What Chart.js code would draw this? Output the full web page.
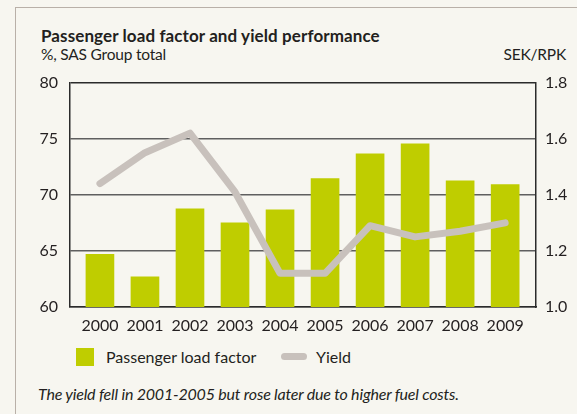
<!DOCTYPE html>
<html>
<head>
<meta charset="utf-8">
<script src="https://cdn.jsdelivr.net/npm/chart.js@4"></script>
<style>
  html, body { margin: 0; padding: 0; }
  body {
    width: 577px; height: 414px; overflow: hidden; position: relative;
    background: #f7f6f0; font-family: Lato, sans-serif; color: #231f20;
  }
  .frame {
    position: absolute; left: 15px; top: 7px; right: -10px; bottom: -10px;
    border-left: 1.5px solid #b9b0a8; border-top: 1.5px solid #b9b0a8;
  }
  .txt { position: absolute; white-space: nowrap; line-height: 1; }
  #title { left: 41px; top: 27px; font-size: 17px; font-weight: bold; letter-spacing: 0.1px; }
  #sub { left: 41px; top: 47px; font-size: 15.5px; letter-spacing: -0.2px; }
  #unit { right: 11px; top: 47px; font-size: 15.5px; letter-spacing: -0.2px; }
  #wrap { position: absolute; left: 0; top: 61px; width: 577px; height: 284px; }
  .swatch { position: absolute; }
  #sw1 { left: 76px; top: 348px; width: 18px; height: 18px; background: #bfcd00; }
  #sw2 { left: 281px; top: 353px; width: 26px; height: 7px; border-radius: 4px; background: #c8c1bc; }
  #lg1 { left: 106px; top: 349px; font-size: 16px; }
  #lg2 { left: 316px; top: 349px; font-size: 16px; }
  #note { left: 38px; top: 386px; font-size: 16px; font-style: italic; letter-spacing: -0.2px; }
</style>
</head>
<body>
<div class="frame"></div>
<div class="txt" id="title">Passenger load factor and yield performance</div>
<div class="txt" id="sub">%, SAS Group total</div>
<div class="txt" id="unit">SEK/RPK</div>
<div id="wrap"><canvas id="chart" width="577" height="284"></canvas></div>
<div class="swatch" id="sw1"></div>
<div class="txt" id="lg1">Passenger load factor</div>
<div class="swatch" id="sw2"></div>
<div class="txt" id="lg2">Yield</div>
<div class="txt" id="note">The yield fell in 2001-2005 but rose later due to higher fuel costs.</div>

<script>
// 연도, 탑승률(%), 수익률(SEK/RPK)
const years = ['2000', '2001', '2002', '2003', '2004', '2005', '2006', '2007', '2008', '2009'];
const loadFactor = [64.7, 62.7, 68.75, 67.5, 68.65, 71.45, 73.65, 74.55, 71.25, 70.9];
const yieldValues = [1.44, 1.55, 1.62, 1.41, 1.12, 1.12, 1.29, 1.25, 1.27, 1.30];

// 눈금
const leftTicks = [60, 65, 70, 75, 80];
const rightTicks = [1.0, 1.2, 1.4, 1.6, 1.8];

const textColor = '#231f20';

Chart.defaults.font.family = 'Lato, sans-serif';
Chart.defaults.font.size = 16;
Chart.defaults.color = textColor;

const ctx = document.getElementById('chart').getContext('2d');

new Chart(ctx, {
    type: 'bar',
    data: {
        datasets: [
            {
                type: 'line',
                label: 'Yield',
                data: yieldValues.map((v, i) => ({ x: i, y: v })),
                yAxisID: 'y1',
                borderColor: '#c8c1bc',
                borderWidth: 7,
                borderCapStyle: 'round',
                borderJoinStyle: 'round',
                pointRadius: 0,
                tension: 0,
                order: 0
            },
            {
                type: 'bar',
                label: 'Passenger load factor',
                data: loadFactor.map((v, i) => ({ x: i, y: v })),
                yAxisID: 'y',
                backgroundColor: '#bfcd00',
                borderWidth: 0,
                barThickness: 28,
                order: 1
            }
        ]
    },
    options: {
        responsive: false,
        animation: false,
        layout: { padding: { top: 13, left: 0, right: 0, bottom: 0 } },
        plugins: {
            legend: { display: false },
            tooltip: { enabled: false }
        },
        scales: {
            x: {
                type: 'linear',
                offset: false,
                min: -0.665,
                max: 9.685,
                grid: { display: false, drawTicks: false },
                border: { display: true, color: '#2b2b2b', width: 1.5 },
                afterBuildTicks: scale => {
                    scale.ticks = years.map((_, i) => ({ value: i }));
                },
                ticks: {
                    padding: 9,
                    autoSkip: false,
                    maxRotation: 0,
                    callback: v => years[v]
                },
                afterFit: scale => { scale.height = 38; }
            },
            y: {
                position: 'left',
                min: 60,
                max: 80,
                afterBuildTicks: scale => {
                    scale.ticks = leftTicks.map(v => ({ value: v }));
                },
                grid: {
                    drawTicks: false,
                    color: c => (c.tick.value === 80 ? '#2b2b2b' : '#5f5f5f'),
                    lineWidth: 1.5
                },
                border: { display: true, color: '#2b2b2b', width: 1.5 },
                ticks: { padding: 12 },
                afterFit: scale => { scale.width = 70; }
            },
            y1: {
                position: 'right',
                min: 1.0,
                max: 1.8,
                afterBuildTicks: scale => {
                    scale.ticks = rightTicks.map(v => ({ value: v }));
                },
                grid: { display: false, drawTicks: false },
                border: { display: true, color: '#2b2b2b', width: 1.5 },
                ticks: { padding: 9, callback: v => v.toFixed(1) },
                afterFit: scale => { scale.width = 41; }
            }
        }
    }
});
</script>
</body>
</html>
